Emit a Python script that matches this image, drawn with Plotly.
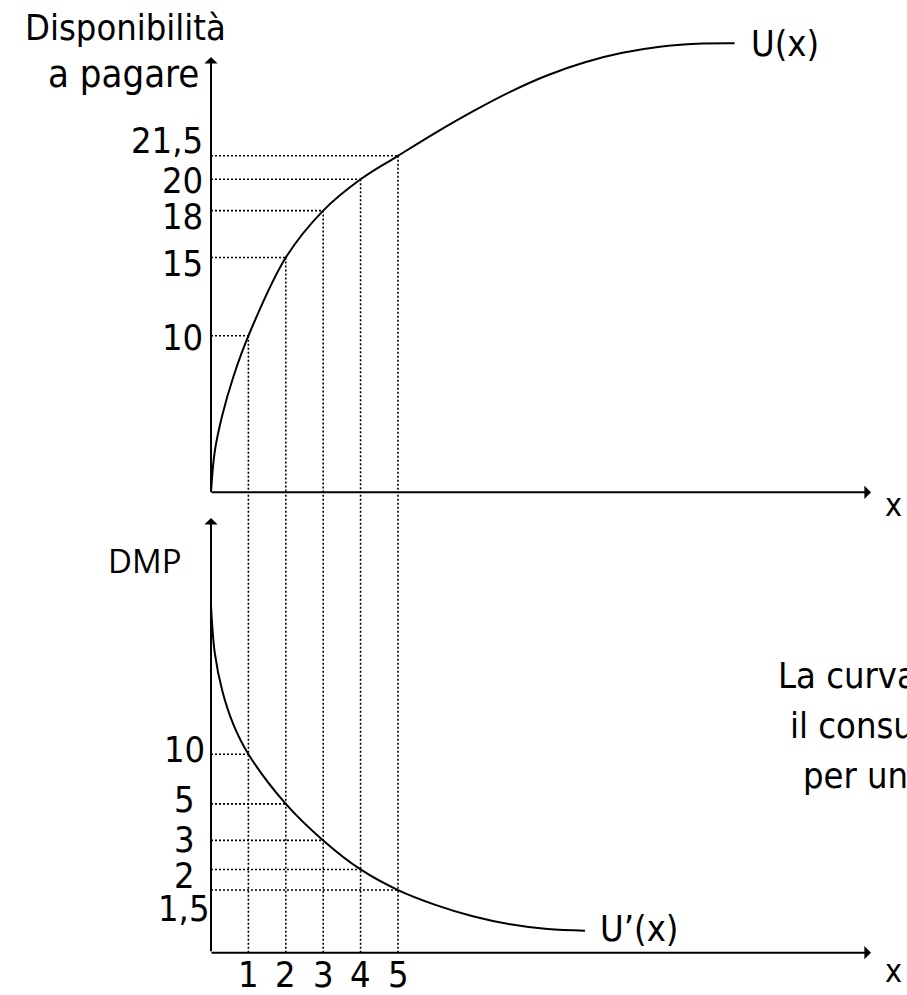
import math
import plotly.graph_objects as go

W, H = 907, 995

# ---------------- data ----------------
x_marked = [1, 2, 3, 4, 5]
x_tick_text = ["1", "2", "3", "4", "5"]

u_marked = [10, 15, 18, 20, 21.5]
u_tick_text = ["10", "15", "18", "20", "21,5"]

dmp_marked = [10, 5, 3, 2, 1.5]
dmp_tick_text = ["10", "5", "3", "2", "1,5"]

# total utility curve U(x)
u_curve_x = [0, 0.1, 0.3, 0.6, 1, 2, 3, 4, 5, 6, 7, 8, 9, 10, 11, 12, 13, 14]
u_curve_y = [0, 2.6, 4.9, 7.4, 10, 15, 18, 20, 21.5, 22.97, 24.34, 25.59, 26.65,
             27.48, 28.08, 28.47, 28.66, 28.69]

# marginal willingness to pay U'(x)  (drawn on a log scale)
dmp_curve_x = [0, 0.1, 0.3, 0.6, 1, 2, 3, 4, 5, 6, 7, 8, 9, 10]
dmp_curve_y = [80, 41.3, 24.3, 15.1, 10, 5, 3, 2, 1.5, 1.22, 1.04, 0.93, 0.87, 0.85]

# ---------------- layout geometry (pixels) ----------------
ORIGIN_PX = 211.0
PX_PER_X = 37.4
TOP_BASE_PX = 492.3
PX_PER_U = 15.65
BOT_BASE_PX = 952.7
BOT_LOG_MIN = -0.2038
PX_PER_DECADE = 164.9

# label nudges (pixels, + = up) to mimic the hand placement of the original
u_label_shift = [-2, -6, -6, -1, 15]
dmp_label_shift = [5, 4, 1, -6, -18]

FONT = "DejaVu Sans Condensed, Liberation Sans, Arial, sans-serif"
FS = 36
INK = "#000000"


def px(xp):
    return xp / W


def py(yp):
    return 1 - yp / H


fig = go.Figure()

curve_line = dict(color=INK, width=2, shape="spline", smoothing=1.0)
dot_line = dict(color=INK, width=1.6, dash="2px,2px")

# curves
fig.add_trace(go.Scatter(x=u_curve_x, y=u_curve_y, mode="lines", line=curve_line,
                         xaxis="x", yaxis="y", hoverinfo="skip"))
fig.add_trace(go.Scatter(x=dmp_curve_x, y=dmp_curve_y, mode="lines", line=curve_line,
                         xaxis="x", yaxis="y2", hoverinfo="skip"))

shapes = []
for xi, ui, di in zip(x_marked, u_marked, dmp_marked):
    # top: horizontal from axis to curve, vertical from curve down to x-axis
    fig.add_trace(go.Scatter(x=[0, xi], y=[ui, ui], mode="lines", line=dot_line,
                             xaxis="x", yaxis="y", hoverinfo="skip"))
    fig.add_trace(go.Scatter(x=[xi, xi], y=[ui, 0], mode="lines", line=dot_line,
                             xaxis="x", yaxis="y", hoverinfo="skip"))
    # bottom: horizontal from axis to curve
    fig.add_trace(go.Scatter(x=[0, xi], y=[di, di], mode="lines", line=dot_line,
                             xaxis="x", yaxis="y2", hoverinfo="skip"))
    # bottom: vertical continuing through the whole lower panel
    shapes.append(dict(type="line", xref="x", yref="y2 domain", x0=xi, x1=xi, y0=0, y1=1,
                       line=dict(color=INK, width=1.6, dash="2px,2px")))

annotations = []


def arrow(tip_x, tip_y, tail_x, tail_y):
    annotations.append(dict(x=px(tip_x), y=py(tip_y), xref="paper", yref="paper",
                            ax=tail_x - tip_x, ay=tail_y - tip_y, text="",
                            showarrow=True, arrowhead=1, arrowsize=1.1,
                            arrowwidth=2, arrowcolor=INK, standoff=0))


# axes with arrows
arrow(ORIGIN_PX, 57, ORIGIN_PX, TOP_BASE_PX)
arrow(871, TOP_BASE_PX, ORIGIN_PX - 1, TOP_BASE_PX)
arrow(ORIGIN_PX, 518, ORIGIN_PX, BOT_BASE_PX)
arrow(871, BOT_BASE_PX, ORIGIN_PX - 1, BOT_BASE_PX)


def text(s, x, y, xanchor="center", yanchor="middle", size=FS, family=FONT, **kw):
    annotations.append(dict(text=s, x=x, y=y, xanchor=xanchor, yanchor=yanchor,
                            showarrow=False, font=dict(family=family, size=size, color=INK),
                            **kw))


# tick labels, top panel
for ui, t, sh in zip(u_marked, u_tick_text, u_label_shift):
    text(t, px(205), ui, xanchor="right", xref="paper", yref="y", yshift=sh)
# tick labels, bottom panel (log axis -> log10 positions)
for di, t, sh in zip(dmp_marked, dmp_tick_text, dmp_label_shift):
    text(t, px(184), math.log10(di), xanchor="center", xref="paper", yref="y2", yshift=sh)
# x tick labels
for xi, t in zip(x_marked, x_tick_text):
    text(t, xi, py(995), yanchor="bottom", xref="x", yref="paper", yshift=-2)

# titles / labels
text("Disponibilità", px(125.5), py(27), xref="paper", yref="paper")
text("a pagare", px(123.5), py(74), size=38, xref="paper", yref="paper")
text("x", px(893.5), py(505), size=32, xref="paper", yref="paper")
text("x", px(893.5), py(971), size=32, xref="paper", yref="paper")
text("U(x)", px(749), py(43), xanchor="left", xref="paper", yref="paper")
text("U\u2019(x)", px(598), py(928), xanchor="left", xref="paper", yref="paper")
text("DMP", px(106), py(560), xanchor="left", size=33, family="Open Sans, Noto Sans, sans-serif",
     xref="paper", yref="paper")

# explanatory note, cut by the right edge as in the original
text("La curva di domanda indica", px(776), py(675), xanchor="left", xref="paper", yref="paper")
text("il consumatore quanto", px(788), py(725), xanchor="left", xref="paper", yref="paper")
text("per unità aggiuntiva", px(801), py(775), xanchor="left", xref="paper", yref="paper")

top_dom = [1 - TOP_BASE_PX / H, 1.0]
bot_dom = [1 - BOT_BASE_PX / H, 1 - TOP_BASE_PX / H]

fig.update_layout(
    width=W, height=H,
    margin=dict(l=0, r=0, t=0, b=0, pad=0),
    paper_bgcolor="white", plot_bgcolor="white",
    showlegend=False,
    xaxis=dict(domain=[0, 1], range=[-ORIGIN_PX / PX_PER_X, (W - ORIGIN_PX) / PX_PER_X],
               visible=False, anchor="y"),
    yaxis=dict(domain=top_dom, range=[0, TOP_BASE_PX / PX_PER_U], visible=False, anchor="x"),
    yaxis2=dict(domain=bot_dom, type="log",
                range=[BOT_LOG_MIN, BOT_LOG_MIN + (BOT_BASE_PX - TOP_BASE_PX) / PX_PER_DECADE],
                visible=False, anchor="x"),
    shapes=shapes,
    annotations=annotations,
)

fig.write_html("out.html", config={"displayModeBar": False},
               post_script="document.body.style.margin='0';document.body.style.overflow='hidden';")
